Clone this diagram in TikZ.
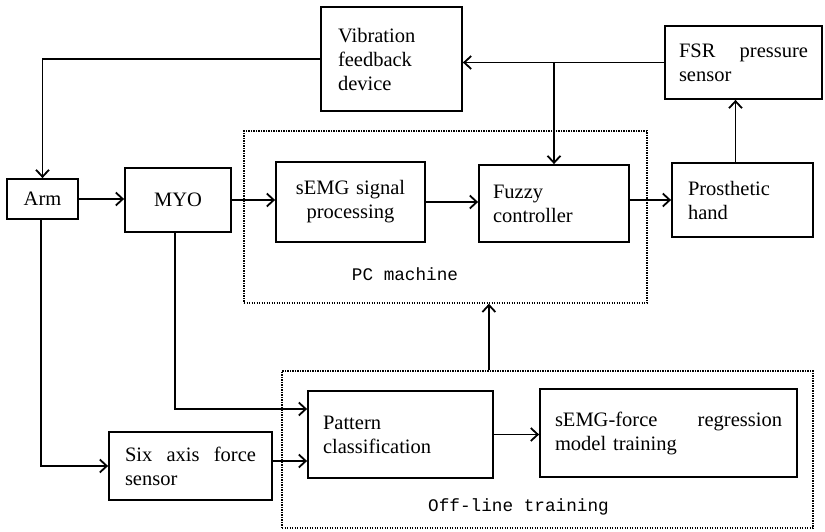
\documentclass[tikz,border=0pt]{standalone}
\usepackage{fontspec}
\setmainfont{Liberation Serif}
\setmonofont{Liberation Mono}
\usetikzlibrary{arrows.meta}

\begin{document}
\begin{tikzpicture}[x=1pt, y=-1pt,
  blk/.style={draw, line width=1.8pt, inner ysep=0pt, align=left,
    font=\fontsize{20.5}{24}\selectfont},
  frame/.style={draw, line width=1.4pt, dash pattern=on 1.2pt off 1.3pt,
    inner sep=0pt},
  lbl/.style={font=\ttfamily\fontsize{17.7}{20}\selectfont, inner sep=0pt},
  arr/.style={line width=1.8pt, -{Straight Barb[length=7pt,width=13pt,line width=1.8pt]}},
  ln/.style={line width=1.8pt}]
\useasboundingbox (0,0) rectangle (825,532);

% dotted frames
\node[frame, minimum width=403pt, minimum height=172pt] (pc) at (445.5,217) {};
\node[frame, minimum width=531pt, minimum height=157pt] (off) at (547.5,449.5) {};
\node[lbl] (pclbl) at (405,274) {PC machine};
\node[lbl] (offlbl) at (518.5,507) {Off-line training};

% blocks
\node[blk, inner xsep=17pt, text width=107pt, minimum height=104pt] (vib) at (391.5,59)
  {Vibration\\feedback\\device};
\node[blk, inner xsep=14pt, text width=129pt, minimum height=73pt] (fsr) at (743.5,62.5)
  {FSR\hfill pressure\\sensor};
\node[blk, align=center, inner xsep=0pt, minimum width=71pt, minimum height=40pt] (arm) at (42.5,199)
  {Arm};
\node[blk, align=center, inner xsep=0pt, minimum width=106pt, minimum height=64pt] (myo) at (178,200)
  {MYO};
\node[blk, align=center, inner xsep=0pt, text width=149pt, minimum height=80pt] (semg) at (350.5,202)
  {sEMG signal\\processing};
\node[blk, inner xsep=14pt, text width=122pt, minimum height=77pt] (fuzzy) at (554,203.5)
  {Fuzzy\\controller};
\node[blk, inner xsep=16pt, text width=109pt, minimum height=74pt] (hand) at (742.5,200)
  {Prosthetic\\hand};
\node[blk, inner xsep=16pt, text width=131pt, minimum height=68pt] (six) at (190.5,466)
  {Six\hfill axis\hfill force\\sensor};
\node[blk, inner xsep=15pt, text width=155pt, minimum height=87pt] (pat) at (400.5,434.5)
  {Pattern\\classification};
\node[blk, inner xsep=15pt, text width=227pt, minimum height=88pt] (reg) at (668.5,433)
  {sEMG-force\hfill regression\\model training};

% feedback path
\coordinate (split) at (fuzzy.north |- fsr.west);
\draw[arr] (fsr.west) -- (vib.east |- fsr.west);
\draw[arr] (split) -- (fuzzy.north);
\draw[arr] (vib.west) -| (arm.north);
\draw[arr] ([xshift=-7pt]hand.north) -- ([xshift=-7pt]hand.north |- fsr.south);

% main chain
\draw[arr] (arm.east) -- (myo.west |- arm.east);
\draw[arr] (myo.east) -- (semg.west |- myo.east);
\draw[arr] (semg.east) -- (fuzzy.west |- semg.east);
\draw[arr] (fuzzy.east |- hand.west) -- (hand.west);

% training branch
\coordinate (patin1) at ([yshift=25.5pt]pat.west);
\coordinate (patin2) at ([yshift=-26.5pt]pat.west);
\draw[arr] ([xshift=-3pt]myo.south) |- (patin1);
\draw[arr] ([xshift=-1.5pt]arm.south) |- (six.west);
\draw[arr] (six.east |- patin2) -- (patin2);
\draw[arr] (pat.east) -- (reg.west |- pat.east);
\draw[arr] ([xshift=-5pt]pat.east |- off.north) -- ([xshift=-5pt]pat.east |- pc.south);
\end{tikzpicture}
\end{document}
